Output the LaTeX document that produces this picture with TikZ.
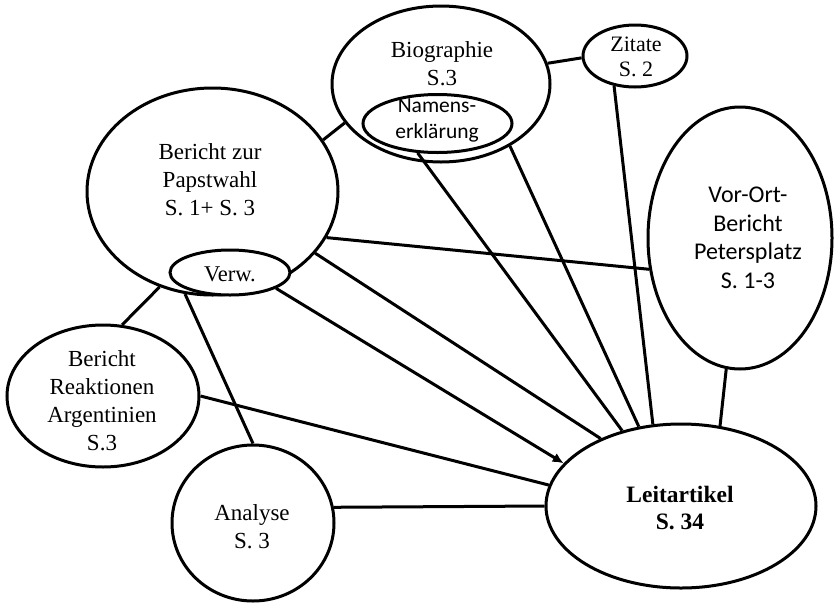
\documentclass[tikz,border=0pt]{standalone}
\usepackage{fontspec}
\setmainfont{Liberation Serif}
\newfontfamily\calib{Carlito}
\usetikzlibrary{shapes.geometric,arrows.meta}

\begin{document}
\begin{tikzpicture}[x=1pt,y=-1pt,
  bubble/.style={ellipse,draw,line width=3pt,fill=white,inner sep=0pt},
  lbl/.style={align=center,inner sep=0pt,font=\fontsize{23}{28}\selectfont},
  sanslbl/.style={align=center,inner sep=0pt,font=\calib\fontsize{24}{28.5}\selectfont},
  link/.style={line width=3pt},
  tip/.style={-{Latex[length=11pt,width=10pt]}}
]
\useasboundingbox (0,0) rectangle (838,603);

% article bubbles
\node[bubble,minimum width=218pt,minimum height=156pt] (bio) at (441,84) {};
\node[bubble,minimum width=149pt,minimum height=58pt] (nam) at (437.5,123.5) {};
\node[bubble,minimum width=251pt,minimum height=207pt] (pw) at (212.5,191.5) {};
\node[bubble,minimum width=120pt,minimum height=45pt] (verw) at (230,272.5) {};
\node[bubble,minimum width=104pt,minimum height=62pt] (zit) at (635,56) {};
\node[bubble,minimum width=184pt,minimum height=262pt] (vor) at (740,238) {};
\node[bubble,minimum width=192pt,minimum height=142pt] (arg) at (103,396) {};
\node[bubble,minimum width=162pt,minimum height=156pt] (ana) at (253,523) {};
\node[bubble,minimum width=270pt,minimum height=164pt] (lei) at (681,506) {};

% bubble texts
\node[lbl] (bio-t) at (442,64) {Biographie\\S.3};
\node[sanslbl,font=\calib\fontsize{21.5}{26}\selectfont] (nam-t) at (437,120) {Namens-\\erklärung};
\node[lbl] (pw-t) at (210,180) {Bericht zur\\Papstwahl\\S. 1+ S. 3};
\node[lbl,font=\fontsize{22.5}{28}\selectfont] (verw-t) at (230,274) {Verw.};
\node[lbl,font=\fontsize{22}{25}\selectfont] (zit-t) at (636,57) {Zitate\\S. 2};
\node[sanslbl] (vor-t) at (748,238) {Vor-Ort-\\Bericht\\Petersplatz\\S. 1-3};
\node[lbl] (arg-t) at (102,401) {Bericht\\Reaktionen\\Argentinien\\S.3};
\node[lbl] (ana-t) at (252,527) {Analyse\\S. 3};
\node[lbl,font=\bfseries\fontsize{23.5}{27}\selectfont] (lei-t) at (680,508) {Leitartikel\\S. 34};

% connectors
\draw[link] (bio.11) -- (zit.182);
\draw[link] (bio.202) -- (pw.25.8);
\draw[link] (pw.-22.6) -- (vor.199.2);
\draw[link] (pw.241.4) -- (arg.75);
\draw[link] (pw.255.9) -- (ana.90.7);
\draw[link,tip] (verw.-19) -- (lei.160.5);
\draw[link] (pw.-31.8) -- (lei.140.8);
\draw[link] (nam.236.6) -- (lei.128.1);
\draw[link] (bio.-42.8) -- (lei.118.9);
\draw[link] (zit.235.4) -- (lei.109.5);
\draw[link] (vor.264.7) -- (lei.64.9);
\draw[link] (arg.0) -- (lei.171.7);
\draw[link] (ana.11.3) -- (lei.180.4);
\end{tikzpicture}
\end{document}
